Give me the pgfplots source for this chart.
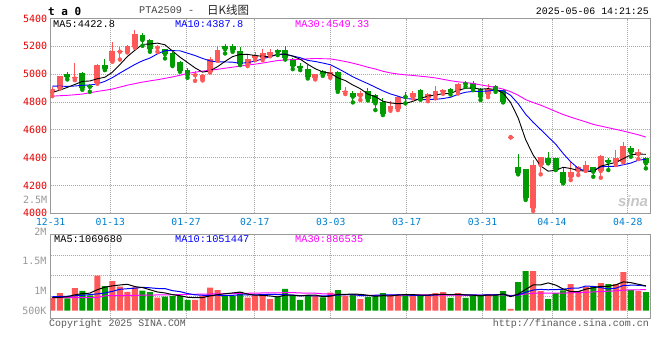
\documentclass[border=0pt]{standalone}
\usepackage{pgfplots}
\pgfplotsset{compat=1.18}
\usepackage{pgfplotstable}
\usepackage{fontspec}
\setmainfont{Liberation Mono}
\newfontfamily\dmono{DejaVu Sans Mono}
\newfontfamily\cjk{Noto Sans CJK SC}
\newfontfamily\sansf{Liberation Sans}
\definecolor{cRed}{RGB}{255,88,88}
\definecolor{cGreen}{RGB}{0,155,0}
\definecolor{tickred}{RGB}{230,0,0}
\definecolor{dateblue}{RGB}{0,128,208}
\definecolor{framegray}{RGB}{153,153,153}
\definecolor{gridgray}{RGB}{170,170,170}
\definecolor{mag}{RGB}{255,0,255}
\definecolor{mablue}{RGB}{0,0,255}

% i O H L C V(K)
\pgfplotstableread{
i O H L C V
0 4869 4909 4842 4893 556
1 4902 4990 4897 4986 754
3 4969 5079 4957 4981 970
6 4938 5070 4931 5065 1498
8 5096 5232 5089 5165 1272
9 5161 5196 5105 5168 1027
10 5161 5208 5156 5201 810
11 5196 5316 5189 5292 999
14 5189 5213 5161 5196 556
19 4993 5022 4952 5000 462
20 4962 5000 4955 4993 631
21 5017 5120 5012 5108 989
22 5101 5201 5096 5177 885
26 5072 5141 5058 5108 556
27 5117 5156 5101 5137 669
28 5117 5180 5101 5153 631
29 5141 5180 5129 5161 499
35 4969 5003 4962 4998 631
37 4988 5060 4974 5012 772
39 4869 4909 4857 4876 631
41 4845 4878 4814 4866 499
45 4749 4806 4737 4773 669
46 4749 4845 4742 4838 669
48 4833 4878 4826 4864 631
50 4826 4864 4806 4854 669
51 4845 4914 4826 4878 754
52 4871 4892 4859 4885 801
54 4878 4933 4861 4928 754
58 4854 4926 4835 4893 716
61 4546 4552 4546 4552 75
64 4036 4383 4017 4347 1696
65 4347 4407 4280 4407 838
69 4263 4371 4239 4299 1140
70 4306 4340 4275 4335 838
71 4311 4378 4304 4347 1017
73 4304 4419 4256 4414 1187
75 4366 4455 4347 4400 1140
76 4371 4514 4366 4483 1658
78 4424 4459 4390 4438 838
}\up

\pgfplotstableread{
i O H L C V
2 5003 5017 4962 4981 528
4 5007 5012 4888 4897 848
5 4917 4928 4873 4909 659
7 5065 5108 5029 5036 1055
12 5280 5297 5204 5244 857
13 5249 5256 5161 5180 791
15 5180 5184 5113 5144 603
16 5149 5156 5058 5065 631
17 5089 5092 5017 5024 631
18 5029 5041 4974 4993 462
23 5204 5218 5149 5180 669
24 5201 5220 5161 5172 631
25 5165 5192 5065 5072 810
30 5172 5184 5137 5156 603
31 5175 5201 5105 5113 933
32 5108 5117 5036 5060 669
33 5060 5077 5029 5046 462
34 5036 5065 4969 4979 669
36 5022 5029 4988 4998 575
38 5012 5022 4873 4885 885
40 4866 4878 4797 4838 716
42 4878 4902 4811 4821 584
43 4850 4859 4742 4790 669
44 4797 4826 4706 4716 754
47 4842 4869 4790 4835 716
49 4885 4890 4816 4821 669
53 4893 4902 4854 4873 546
55 4940 4950 4909 4928 546
56 4933 4950 4885 4893 669
57 4893 4902 4814 4838 669
59 4914 4921 4873 4893 716
60 4885 4893 4797 4802 838
62 4335 4426 4280 4287 1225
63 4318 4318 4096 4108 1696
66 4395 4443 4359 4364 499
67 4395 4400 4311 4318 754
68 4299 4330 4215 4220 867
72 4335 4335 4263 4299 1055
74 4380 4395 4311 4371 1140
77 4471 4483 4407 4438 885
79 4395 4407 4323 4359 801
}\dn

\pgfplotstableread{
i m5 m10 m30
0 4869 4914 4842
1 4885 4914 4845
2 4905 4912 4848
3 4926 4915 4852
4 4948 4920 4857
5 4951 4922 4866
6 4967 4930 4876
7 4978 4948 4884
8 5014 4975 4893
9 5069 5008 4907
10 5127 5039 4921
11 5172 5070 4932
12 5214 5096 4943
13 5217 5116 4952
14 5223 5146 4960
15 5211 5169 4970
16 5166 5169 4980
17 5122 5168 4992
18 5084 5151 5005
19 5045 5134 5014
20 5015 5113 5022
21 5024 5095 5028
22 5054 5088 5035
23 5092 5088 5043
24 5126 5086 5050
25 5142 5078 5058
26 5142 5083 5065
27 5134 5094 5072
28 5128 5110 5080
29 5126 5126 5089
30 5143 5142 5098
31 5144 5143 5102
32 5129 5131 5105
33 5107 5118 5107
34 5071 5099 5110
35 5039 5091 5113
36 5016 5080 5111
37 5007 5068 5110
38 4974 5041 5101
39 4954 5012 5091
40 4922 4981 5079
41 4895 4956 5065
42 4857 4932 5050
43 4838 4906 5037
44 4806 4880 5021
45 4793 4858 5009
46 4788 4842 5001
47 4790 4824 4995
48 4805 4822 4991
49 4826 4816 4985
50 4842 4818 4980
51 4850 4819 4973
52 4860 4825 4963
53 4862 4834 4953
54 4884 4855 4945
55 4898 4870 4940
56 4901 4876 4933
57 4892 4876 4923
58 4896 4879 4914
59 4889 4886 4905
60 4864 4881 4893
61 4796 4848 4874
62 4686 4788 4849
63 4529 4712 4817
64 4419 4654 4796
65 4340 4602 4777
66 4303 4549 4755
67 4309 4497 4732
68 4331 4429 4710
69 4322 4370 4691
70 4307 4323 4674
71 4304 4303 4657
72 4300 4304 4639
73 4339 4335 4627
74 4353 4337 4615
75 4366 4337 4603
76 4393 4349 4591
77 4421 4361 4578
78 4426 4382 4564
79 4424 4388 4548
}\ma

\pgfplotstableread{
i a5 a10 a30
0 560 600 560
1 570 610 561
2 600 620 562
3 680 640 563
4 731 660 564
5 752 690 564
6 901 720 565
7 1006 760 640
8 1066 830 645
9 1102 917 650
10 1132 942 655
11 1033 967 660
12 993 1000 665
13 897 982 670
14 803 952 675
15 761 947 680
16 688 860 686
17 642 818 692
18 577 737 698
19 558 680 704
20 563 662 710
21 635 661 716
22 686 664 722
23 727 652 728
24 761 659 734
25 797 680 740
26 710 673 747
27 667 676 753
28 659 693 760
29 633 697 765
30 592 694 766
31 667 689 772
32 667 667 777
33 633 646 760
34 667 650 754
35 673 632 753
36 601 634 722
37 622 644 713
38 706 670 700
39 699 683 687
40 716 694 684
41 701 651 667
42 663 642 658
43 620 663 654
44 644 672 660
45 635 675 663
46 669 685 664
47 695 679 667
48 688 654 672
49 671 658 679
50 671 653 680
51 688 678 673
52 705 700 670
53 688 688 666
54 705 688 670
55 680 676 661
56 663 676 665
57 637 671 665
58 671 679 668
59 663 684 675
60 722 701 683
61 603 633 654
62 714 675 673
63 910 790 714
64 1106 885 748
65 1106 914 755
66 1191 897 752
67 1097 905 752
68 931 920 751
69 820 963 768
70 820 963 772
71 923 1057 789
72 983 1040 805
73 1047 989 822
74 1047 934 835
75 1108 964 851
76 1236 1080 884
77 1202 1093 890
78 1132 1090 897
79 1064 1056 901
}\vma

\pgfplotsset{
  klinestyle/.style={
    scale only axis, width=599.6pt,
    xmin=-0.21, xmax=79.59,
    axis line style={framegray, line width=1pt},
    xtick={-0.21,7.72,17.8,26.95,37.07,47.16,57.26,66.5,76.59},
    grid=major,
    grid style={gridgray, dash pattern=on 1pt off 1pt, line width=0.8pt},
    major tick length=0pt,
  }
}

\begin{document}
\begin{tikzpicture}
\path[use as bounding box, fill=white] (0pt,0pt) rectangle (660pt,-360pt);

% ---------- price panel ----------
\begin{axis}[
  klinestyle, name=main,
  at={(50.7pt,-213.3pt)}, anchor=south west,
  height=194.8pt,
  ymin=4000, ymax=5400,
  ytick={4000,4200,...,5400},
  /pgf/number format/assume math mode=true,
  /pgf/number format/1000 sep={},
  yticklabel style={font=\dmono\fontsize{10}{10}\selectfont, text=tickred},
  xticklabels={12-31,01-13,01-27,02-17,03-03,03-17,03-31,04-14,04-28},
  xticklabel style={font=\dmono\fontsize{9.7}{10}\selectfont, text=dateblue, yshift=-1.5pt},
  extra y ticks={4095},
  extra y tick labels={2.5M},
  extra y tick style={grid=none, yticklabel style={text=framegray}},
]
\addplot[only marks, mark=none, color=cRed,
  error bars/.cd, y dir=plus, y explicit, error mark=none,
  error bar style={line width=1pt, color=cRed}]
  table[x=i, y=L, y error plus expr={\thisrow{H}-\thisrow{L}}] {\up};
\addplot[only marks, mark=none, color=cRed,
  error bars/.cd, y dir=plus, y explicit, error mark=none,
  error bar style={line width=5.8pt, color=cRed}]
  table[x=i, y=O, y error plus expr={\thisrow{C}-\thisrow{O}}] {\up};
\addplot[only marks, mark=none, color=cGreen,
  error bars/.cd, y dir=plus, y explicit, error mark=none,
  error bar style={line width=1pt, color=cGreen}]
  table[x=i, y=L, y error plus expr={\thisrow{H}-\thisrow{L}}] {\dn};
\addplot[only marks, mark=none, color=cGreen,
  error bars/.cd, y dir=plus, y explicit, error mark=none,
  error bar style={line width=5.8pt, color=cGreen}]
  table[x=i, y=C, y error plus expr={\thisrow{O}-\thisrow{C}}] {\dn};
\addplot[mag, line width=0.9pt, mark=none] table[x=i, y=m30] {\ma};
\addplot[mablue, line width=0.9pt, mark=none] table[x=i, y=m10] {\ma};
\addplot[black, line width=0.9pt, mark=none] table[x=i, y=m5] {\ma};
\end{axis}

% ---------- volume panel ----------
\begin{axis}[
  klinestyle,
  at={(50.7pt,-318.3pt)}, anchor=south west,
  height=83.6pt,
  ymin=-325, ymax=3255,
  ytick={621,1499,2377}, yticklabels={},
  xticklabels={},
]
\addplot[ybar, bar width=6pt, bar shift=0pt, fill=cRed, draw=none] table[x=i, y=V] {\up};
\addplot[ybar, bar width=6pt, bar shift=0pt, fill=cGreen, draw=none] table[x=i, y=V] {\dn};
\addplot[mag, line width=1pt, mark=none] table[x=i, y=a30] {\vma};
\addplot[mablue, line width=1pt, mark=none] table[x=i, y=a10] {\vma};
\addplot[black, line width=1pt, mark=none] table[x=i, y=a5] {\vma};
\end{axis}

% ---------- texts ----------
\node[anchor=west, inner sep=0pt, font=\dmono\bfseries\fontsize{11}{11}\selectfont] at (48pt,-11pt) {t a 0};
\node[anchor=west, inner sep=0pt, text=black!75, font=\fontsize{10.2}{11}\selectfont] at (139pt,-10.5pt) {PTA2509 -};
\node[anchor=west, inner sep=0pt, text=black!85, font=\cjk\fontsize{11.5}{12}\selectfont] at (207pt,-10.5pt) {日K线图};
\node[anchor=east, inner sep=0pt, font=\fontsize{9.9}{10}\selectfont] at (649pt,-11.5pt) {2025-05-06 14:21:25};

\node[anchor=west, inner sep=0pt, font=\fontsize{10.3}{11}\selectfont] at (53pt,-24pt) {MA5:4422.8};
\node[anchor=west, inner sep=0pt, text=mablue, font=\fontsize{10.3}{11}\selectfont] at (175pt,-24pt) {MA10:4387.8};
\node[anchor=west, inner sep=0pt, text=mag, font=\fontsize{10.3}{11}\selectfont] at (295pt,-24pt) {MA30:4549.33};

\node[anchor=west, inner sep=0pt, font=\fontsize{10.3}{11}\selectfont] at (54pt,-239.5pt) {MA5:1069680};
\node[anchor=west, inner sep=0pt, text=mablue, font=\fontsize{10.3}{11}\selectfont] at (175pt,-239.5pt) {MA10:1051447};
\node[anchor=west, inner sep=0pt, text=mag, font=\fontsize{10.3}{11}\selectfont] at (295pt,-239.5pt) {MA30:886535};

\node[anchor=east, inner sep=0pt, text=framegray, font=\dmono\fontsize{10}{10}\selectfont] at (46.7pt,-231.5pt) {2M};
\node[anchor=east, inner sep=0pt, text=framegray, font=\dmono\fontsize{10}{10}\selectfont] at (46.7pt,-260.7pt) {1.5M};
\node[anchor=east, inner sep=0pt, text=framegray, font=\dmono\fontsize{10}{10}\selectfont] at (46.7pt,-290.7pt) {1M};
\node[anchor=east, inner sep=0pt, text=framegray, font=\dmono\fontsize{10}{10}\selectfont] at (46.7pt,-310.7pt) {500K};

\node[anchor=west, inner sep=0pt, text=black!65, font=\fontsize{9.9}{10}\selectfont] at (49pt,-324pt) {Copyright 2025 SINA.COM};
\node[anchor=east, inner sep=0pt, text=black!65, font=\fontsize{10}{10}\selectfont] at (649pt,-324pt) {http://finance.sina.com.cn};

\node[text=black!22, font=\sansf\bfseries\itshape\fontsize{15}{15}\selectfont] at (633pt,-201pt) {sina};
\end{tikzpicture}
\end{document}
